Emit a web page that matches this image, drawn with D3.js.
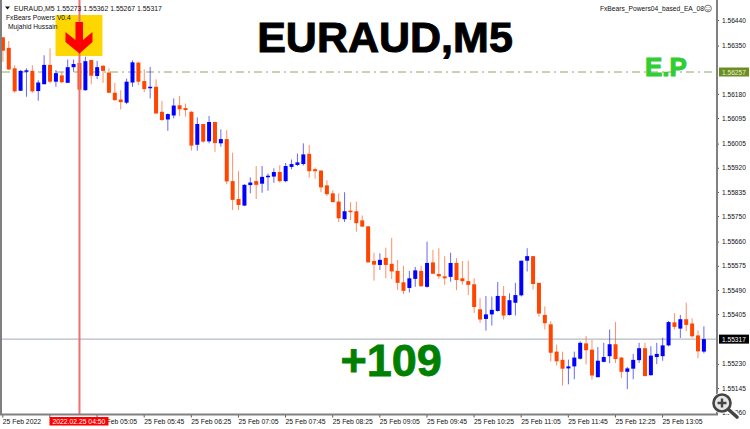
<!DOCTYPE html>
<html>
<head>
<meta charset="utf-8">
<script src="https://cdn.jsdelivr.net/npm/d3@7"></script>
<style>
  html, body { margin: 0; padding: 0; background: #fff; }
  svg { display: block; }
  text { font-family: "Liberation Sans", sans-serif; }
</style>
</head>
<body>
<div id="chart"></div>
<script>
// Candles, oldest first (M5 bars)
const opens = [1.56379,1.56342,1.56270,1.56191,1.56259,1.56261,1.56190,1.56214,1.56282,1.56223,1.56245,1.56219,1.56274,1.56289,1.56193,1.56299,1.56243,1.56279,1.56255,1.56184,
  1.56160,1.56149,1.56220,1.56290,1.56225,1.56200,1.56205,1.56117,1.56090,1.56104,1.56140,1.56130,1.56117,1.56001,1.56074,1.56013,1.56081,1.56006,1.56021,1.55873,
  1.55810,1.55787,1.55859,1.55873,1.55864,1.55887,1.55889,1.55905,1.55873,1.55923,1.55930,1.55933,1.55969,1.55915,1.55910,1.55858,1.55830,1.55801,1.55739,1.55769,
  1.55767,1.55735,1.55714,1.55592,1.55578,1.55603,1.55582,1.55557,1.55517,1.55497,1.55529,1.55557,1.55501,1.55587,1.55546,1.55538,1.55536,1.55585,1.55531,1.55521,
  1.55510,1.55422,1.55388,1.55404,1.55416,1.55469,1.55402,1.55445,1.55471,1.55593,1.55609,1.55515,1.55402,1.55369,1.55273,1.55244,1.55214,1.55221,1.55248,1.55302,
  1.55280,1.55183,1.55237,1.55257,1.55299,1.55252,1.55202,1.55213,1.55243,1.55285,1.55190,1.55254,1.55257,1.55295,1.55376,1.55354,1.55387,1.55372,1.55330,1.55273];
const highs = [1.56379,1.56366,1.56281,1.56264,1.56270,1.56281,1.56228,1.56316,1.56340,1.56264,1.56258,1.56301,1.56301,1.56322,1.56311,1.56301,1.56296,1.56281,1.56270,1.56219,
  1.56193,1.56234,1.56298,1.56293,1.56266,1.56275,1.56231,1.56155,1.56111,1.56164,1.56173,1.56146,1.56119,1.56097,1.56074,1.56102,1.56082,1.56055,1.56053,1.55973,
  1.55908,1.55862,1.55886,1.55926,1.55926,1.55900,1.55918,1.55929,1.55937,1.55949,1.55970,1.56006,1.56000,1.55921,1.55912,1.55876,1.55841,1.55830,1.55834,1.55799,
  1.55801,1.55752,1.55714,1.55621,1.55619,1.55639,1.55673,1.55596,1.55575,1.55557,1.55571,1.55575,1.55660,1.55631,1.55637,1.55609,1.55621,1.55602,1.55592,1.55593,
  1.55531,1.55461,1.55469,1.55467,1.55518,1.55504,1.55478,1.55515,1.55593,1.55637,1.55609,1.55515,1.55432,1.55380,1.55298,1.55273,1.55245,1.55273,1.55309,1.55328,
  1.55314,1.55289,1.55304,1.55351,1.55377,1.55254,1.55219,1.55265,1.55304,1.55304,1.55292,1.55304,1.55322,1.55381,1.55408,1.55402,1.55445,1.55390,1.55348,1.55362];
const lows = [1.56293,1.56264,1.56184,1.56191,1.56170,1.56184,1.56156,1.56214,1.56217,1.56205,1.56217,1.56219,1.56258,1.56179,1.56191,1.56214,1.56232,1.56219,1.56182,1.56156,
  1.56125,1.56144,1.56205,1.56211,1.56186,1.56164,1.56111,1.56085,1.56050,1.56094,1.56102,1.56100,1.55980,1.55980,1.56008,1.56006,1.55976,1.55994,1.55862,1.55771,
  1.55771,1.55785,1.55830,1.55810,1.55832,1.55839,1.55867,1.55868,1.55869,1.55915,1.55926,1.55928,1.55886,1.55881,1.55834,1.55820,1.55799,1.55729,1.55729,1.55736,
  1.55695,1.55712,1.55587,1.55523,1.55560,1.55531,1.55528,1.55490,1.55476,1.55481,1.55501,1.55502,1.55498,1.55546,1.55529,1.55508,1.55519,1.55489,1.55508,1.55472,
  1.55409,1.55374,1.55347,1.55365,1.55414,1.55386,1.55400,1.55400,1.55467,1.55555,1.55492,1.55396,1.55351,1.55239,1.55224,1.55153,1.55158,1.55176,1.55245,1.55228,
  1.55174,1.55183,1.55235,1.55232,1.55233,1.55180,1.55141,1.55176,1.55233,1.55186,1.55189,1.55229,1.55241,1.55292,1.55351,1.55321,1.55345,1.55322,1.55250,1.55267];
const closes = [1.56332,1.56266,1.56189,1.56261,1.56263,1.56189,1.56220,1.56282,1.56223,1.56253,1.56221,1.56274,1.56285,1.56195,1.56295,1.56244,1.56274,1.56261,1.56184,1.56158,
  1.56151,1.56223,1.56291,1.56223,1.56197,1.56205,1.56111,1.56088,1.56109,1.56139,1.56126,1.56123,1.55998,1.56074,1.56012,1.56081,1.56007,1.56021,1.55872,1.55807,
  1.55789,1.55860,1.55868,1.55860,1.55888,1.55892,1.55905,1.55873,1.55926,1.55933,1.55939,1.55967,1.55908,1.55908,1.55851,1.55827,1.55799,1.55742,1.55767,1.55765,
  1.55725,1.55713,1.55587,1.55579,1.55596,1.55578,1.55555,1.55515,1.55487,1.55531,1.55559,1.55503,1.55585,1.55547,1.55538,1.55531,1.55585,1.55525,1.55521,1.55508,
  1.55430,1.55386,1.55404,1.55420,1.55469,1.55400,1.55454,1.55472,1.55593,1.55609,1.55511,1.55407,1.55373,1.55269,1.55239,1.55213,1.55221,1.55252,1.55304,1.55278,
  1.55189,1.55241,1.55254,1.55299,1.55247,1.55202,1.55214,1.55244,1.55285,1.55187,1.55259,1.55265,1.55295,1.55377,1.55360,1.55387,1.55367,1.55327,1.55274,1.55317];

// Axis labels
const priceTicks = [1.56440,1.56350,1.56180,1.56095,1.56005,1.55920,1.55835,1.55750,1.55660,1.55575,1.55490,1.55405,1.55230,1.55145,1.55060];
const timeTicks = [0,8,16,24,32,40,48,56,64,72,80,88,96,104,112];
const timeLabels = ["25 Feb 2022","","25 Feb 05:05","25 Feb 05:45","25 Feb 06:25","25 Feb 07:05","25 Feb 07:45","25 Feb 08:25","25 Feb 09:05","25 Feb 09:45","25 Feb 10:25","25 Feb 11:05","25 Feb 11:45","25 Feb 12:25","25 Feb 13:05"];

// Marked levels
const entryPrice = 1.56257;
const lastPrice = 1.55317;
const signalBar = 13;

const width = 750;
const height = 429;
const plotRight = 717;
const plotBottom = 414.5;
const bull = "#0000ff";
const bear = "#ff4500";

const svg = d3.select("#chart")
    .append("svg")
    .attr("width", width)
    .attr("height", height);

const x = d3.scaleLinear().domain([0, opens.length - 1]).range([2.9, 703.9]);
const y = d3.scaleLinear().domain([1.5644, 1.55145]).range([20, 388]);

// Clip so the first bar stops at the left frame
svg.append("clipPath").attr("id", "plot")
    .append("rect")
    .attr("x", 2).attr("y", 0)
    .attr("width", plotRight - 2).attr("height", plotBottom);

// Yellow signal box goes under the bars
const sx = x(signalBar);
svg.append("rect")
    .attr("x", sx - 24).attr("y", 15)
    .attr("width", 47).attr("height", 41)
    .attr("fill", "#ffd700");

// Entry and last price lines
svg.append("line")
    .attr("x1", 2).attr("x2", plotRight)
    .attr("y1", y(entryPrice)).attr("y2", y(entryPrice))
    .attr("stroke", "#8fa66b")
    .attr("stroke-dasharray", "8,4,2,4");
svg.append("line")
    .attr("x1", 2).attr("x2", plotRight)
    .attr("y1", y(lastPrice)).attr("y2", y(lastPrice))
    .attr("stroke", "#a3aab8");

// Candles
const candles = svg.append("g")
    .attr("clip-path", "url(#plot)")
    .selectAll("g")
    .data(d3.range(opens.length))
    .enter()
    .append("g");

candles.append("line")
    .attr("x1", i => x(i)).attr("x2", i => x(i))
    .attr("y1", i => y(highs[i])).attr("y2", i => y(lows[i]))
    .attr("stroke", i => closes[i] >= opens[i] ? bull : bear)
    .attr("stroke-opacity", 0.6);

candles.append("rect")
    .attr("x", i => x(i) - 2)
    .attr("width", 4)
    .attr("y", i => y(Math.max(opens[i], closes[i])))
    .attr("height", i => Math.max(1.5, Math.abs(y(opens[i]) - y(closes[i]))))
    .attr("fill", i => closes[i] >= opens[i] ? bull : bear);

// Vertical signal line
svg.append("line")
    .attr("x1", sx).attr("x2", sx)
    .attr("y1", 0).attr("y2", plotBottom)
    .attr("stroke", "#f07070")
    .attr("stroke-width", 2);

// Down arrow on the signal bar
svg.append("path")
    .attr("transform", `translate(${sx},0)`)
    .attr("d", "M-4,22 H3.5 V40 L13,32 V42 L0,53.5 L-14,42 V32 L-4,40 Z")
    .attr("fill", "#ff0000");

// Axes
const priceAxis = d3.axisRight(y)
    .tickValues(priceTicks)
    .tickFormat(d3.format(".5f"))
    .tickSize(2)
    .tickPadding(3);
const gy = svg.append("g")
    .attr("transform", `translate(${plotRight},0)`)
    .call(priceAxis);
gy.select(".domain").remove();
gy.selectAll("text").attr("font-size", 6.6).attr("fill", "#111");
gy.selectAll("line").attr("stroke", "#555");

const timeAxis = d3.axisBottom(x)
    .tickValues(timeTicks)
    .tickFormat((d, i) => timeLabels[i])
    .tickSize(3);
const gx = svg.append("g")
    .attr("transform", `translate(-0.6,${plotBottom})`)
    .call(timeAxis);
gx.select(".domain").remove();
gx.selectAll("text")
    .attr("text-anchor", "start")
    .attr("y", 5)
    .attr("font-size", 6.8)
    .attr("fill", "#111");
gx.selectAll("line").attr("stroke", "#555");

// Chart frame: left, right, bottom
svg.append("path")
    .attr("d", `M1,0 V${plotBottom} H${plotRight} V0`)
    .attr("fill", "none")
    .attr("stroke", "#808080")
    .attr("stroke-width", 2);

// Price tags on the axis
function priceTag(price, bg, fg) {
    svg.append("rect")
        .attr("x", plotRight + 2).attr("y", y(price) - 4.5)
        .attr("width", 30).attr("height", 9)
        .attr("fill", bg);
    svg.append("text")
        .attr("x", plotRight + 5).attr("y", y(price) + 2.5)
        .attr("font-size", 6.6)
        .attr("fill", fg)
        .text(d3.format(".5f")(price));
}
priceTag(entryPrice, "#6b8e23", "#e8efd8");
priceTag(lastPrice, "#000", "#fff");

// Red time tag under the signal line
svg.append("rect")
    .attr("x", sx - 30).attr("y", 417)
    .attr("width", 59).attr("height", 8.5)
    .attr("fill", "#ff0000");
svg.append("text")
    .attr("x", sx - 27).attr("y", 423.5)
    .attr("font-size", 6.8)
    .attr("fill", "#fff")
    .text("2022.02.25 04:50");

// Header texts
function label(px, py, size, txt, fill, weight, anchor) {
    return svg.append("text")
        .attr("x", px).attr("y", py)
        .attr("font-size", size)
        .attr("fill", fill || "#111")
        .attr("font-weight", weight || "normal")
        .attr("text-anchor", anchor || "start")
        .text(txt);
}
svg.append("path").attr("d", "M5,6.5 H10 L7.5,9.5 Z").attr("fill", "#111");
label(14, 10.5, 6.9, "EURAUD,M5  1.55273 1.55362 1.55267 1.55317");
label(6, 19.5, 6.7, "FxBears Powers V0.4");
label(8, 29, 6.7, "Mujahid Hussain");
label(704, 11, 6.7, "FxBears_Powers04_based_EA_08", "#111", "normal", "end");

// Smiley next to the expert name
const smiley = svg.append("g")
    .attr("transform", "translate(708,8.5)")
    .attr("fill", "none")
    .attr("stroke", "#555")
    .attr("stroke-width", 0.8);
smiley.append("circle").attr("r", 3.4);
smiley.append("path").attr("d", "M-1.6,1 Q0,2.6 1.6,1 M-1.4,-1 h0.6 M0.8,-1 h0.6");

// Big annotations
label(385, 52, 43, "EURAUD,M5", "#000", "bold", "middle")
    .attr("stroke", "#000")
    .attr("stroke-width", 1);
label(340.5, 376, 45, "+109", "#008000", "bold")
    .attr("stroke", "#008000")
    .attr("stroke-width", 0.8);
label(645, 76, 26, "E.P", "#32cd32", "bold")
    .attr("stroke", "#32cd32")
    .attr("stroke-width", 1);

// Zoom icon in the corner
const lens = svg.append("g").attr("transform", "translate(722,403)");
lens.append("line")
    .attr("x1", 6).attr("y1", 6).attr("x2", 15).attr("y2", 14)
    .attr("stroke", "#fff").attr("stroke-width", 7).attr("stroke-linecap", "round");
lens.append("circle").attr("r", 10.5).attr("fill", "#fff").attr("fill-opacity", 0.85);
lens.append("circle").attr("r", 8.5)
    .attr("fill", "#e6e6e6")
    .attr("stroke", "#444").attr("stroke-width", 2.6);
lens.append("path")
    .attr("d", "M-4.5,0 H4.5 M0,-4.5 V4.5")
    .attr("stroke", "#444").attr("stroke-width", 2.4);
lens.append("line")
    .attr("x1", 6.5).attr("y1", 6.5).attr("x2", 15).attr("y2", 14)
    .attr("stroke", "#444").attr("stroke-width", 3.6).attr("stroke-linecap", "round");
</script>
</body>
</html>
